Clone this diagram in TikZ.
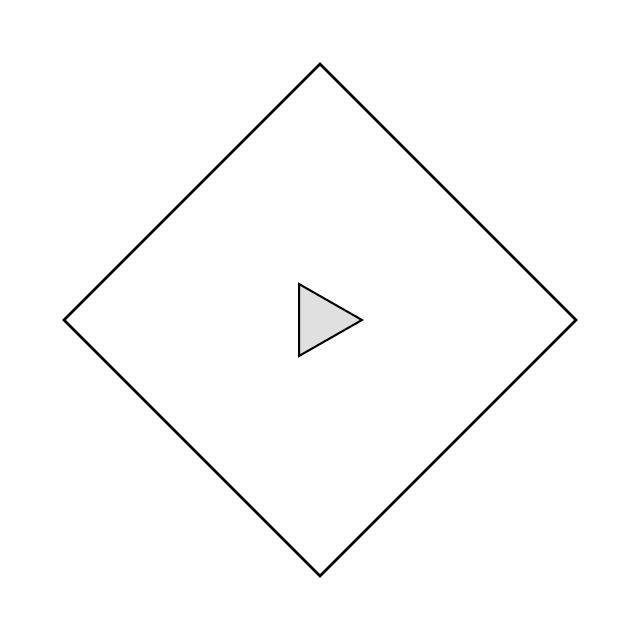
\documentclass[tikz,border=0pt]{standalone}
\begin{document}
\begin{tikzpicture}[x=1pt,y=-1pt,
  frame/.style={draw=black,line width=2.6pt,line join=miter},
  play/.style={draw=black,fill=black!12,line width=2pt,line join=miter}]
\useasboundingbox[fill=white] (0,0) rectangle (640,640);
\coordinate (t) at (320,64);
\coordinate (r) at (576,320);
\coordinate (b) at (320,576);
\coordinate (l) at (64,320);
\draw[frame] (t) -- (r) -- (b) -- (l) -- cycle;
\coordinate (p1) at (299,284);
\coordinate (p2) at (362,320);
\coordinate (p3) at (299,356);
\draw[play] (p1) -- (p2) -- (p3) -- cycle;
\end{tikzpicture}
\end{document}
